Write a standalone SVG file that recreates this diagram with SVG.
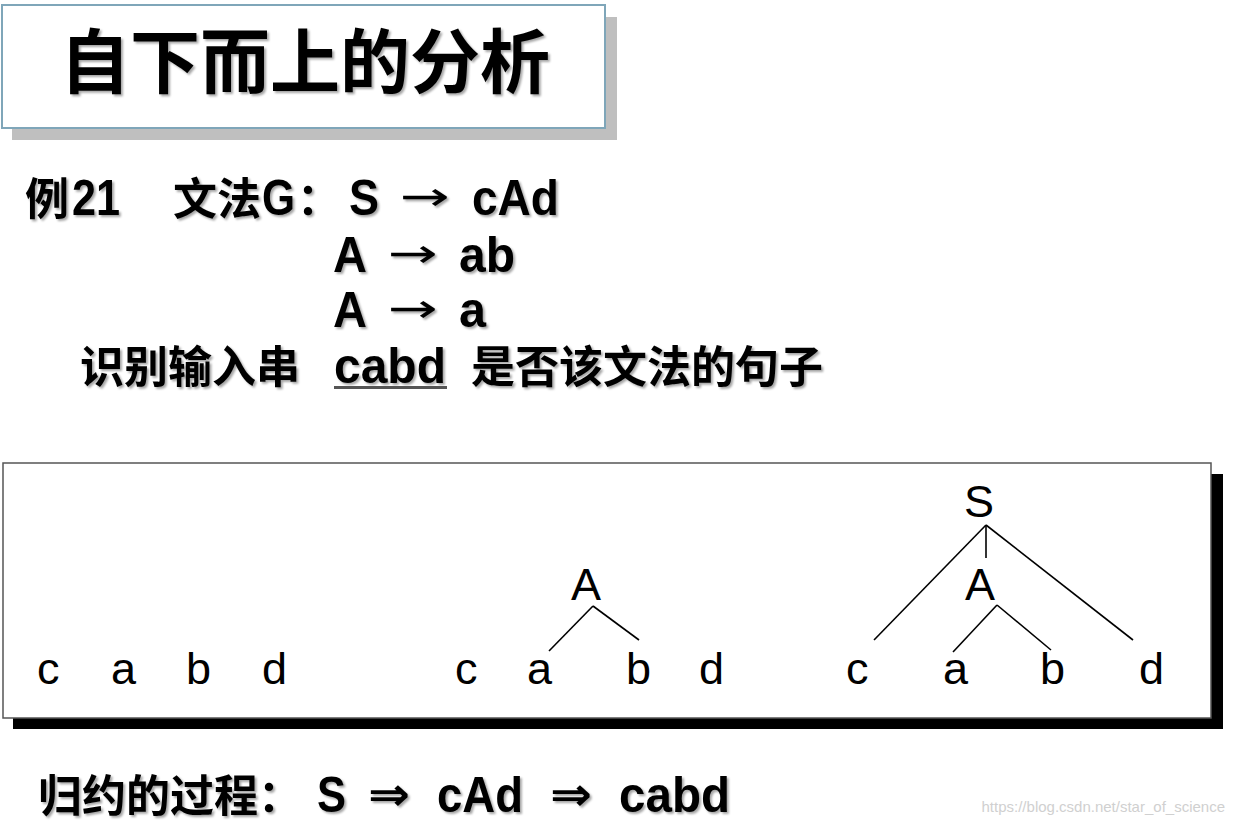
<svg xmlns="http://www.w3.org/2000/svg" width="1234" height="826" viewBox="0 0 1234 826">
<defs>
<filter id="ts" x="-5%" y="-20%" width="110%" height="140%">
<feDropShadow dx="2" dy="2" stdDeviation="1" flood-color="#000" flood-opacity="0.35"/>
</filter>
</defs>
<style>
.cjk{font-family:"Liberation Sans","Noto Sans CJK SC",sans-serif;font-weight:bold;fill:#000}
.lat{font-size:50px}
.arr{font-family:"DejaVu Sans",sans-serif;font-size:40px;font-weight:normal}
.arr2{font-family:"DejaVu Sans",sans-serif;font-size:46px;font-weight:bold}
.t{font-family:"Liberation Sans","Noto Sans CJK SC",sans-serif;font-size:45px;fill:#000}
.edge{stroke:#000;stroke-width:1.6;fill:none}
</style>
<rect width="1234" height="826" fill="#fff"/>
<g id="title">
<rect x="12" y="17" width="605" height="123" fill="#bfbfbf"/>
<rect x="2" y="5" width="603" height="123" fill="#fff" stroke="#7fa6b9" stroke-width="2"/>
<text x="305" y="88" text-anchor="middle" font-family="Noto Sans CJK SC, sans-serif" font-size="70" font-weight="bold" filter="url(#ts)">自下而上的分析</text>
</g>
<g id="grammar" class="cjk" font-size="44" filter="url(#ts)">
<text x="25" y="215">例</text>
<text class="lat" x="72" y="215" textLength="48" lengthAdjust="spacingAndGlyphs">21</text>
<text x="173" y="215">文法</text>
<text class="lat" x="262" y="215" textLength="33" lengthAdjust="spacingAndGlyphs">G</text>
<text x="297" y="215">：</text>
<text class="lat" x="349" y="215" textLength="30" lengthAdjust="spacingAndGlyphs">S</text>
<text class="arr" x="400" y="210" textLength="50" lengthAdjust="spacingAndGlyphs">→</text>
<text class="lat" x="472" y="215" textLength="87" lengthAdjust="spacingAndGlyphs">cAd</text>
<text class="lat" x="333" y="272" textLength="34" lengthAdjust="spacingAndGlyphs">A</text>
<text class="arr" x="388" y="267" textLength="50" lengthAdjust="spacingAndGlyphs">→</text>
<text class="lat" x="459" y="272" textLength="56" lengthAdjust="spacingAndGlyphs">ab</text>
<text class="lat" x="333" y="327" textLength="34" lengthAdjust="spacingAndGlyphs">A</text>
<text class="arr" x="388" y="322" textLength="50" lengthAdjust="spacingAndGlyphs">→</text>
<text class="lat" x="459" y="327" textLength="27" lengthAdjust="spacingAndGlyphs">a</text>
<text x="80" y="383">识别输入串</text>
<text class="lat" x="334" y="383" textLength="112" lengthAdjust="spacingAndGlyphs">cabd</text>
<text x="471" y="383">是否该文法的句子</text>
</g>
<rect x="334" y="386" width="113" height="3" fill="#555"/>
<g id="panel">
<rect x="13" y="474" width="1210" height="255" fill="#000"/>
<rect x="3" y="463" width="1208" height="255" fill="#fff" stroke="#555" stroke-width="1.5"/>
</g>
<g id="connectors">
<line class="edge" x1="593" y1="606" x2="549" y2="651"/>
<line class="edge" x1="593" y1="606" x2="639" y2="640"/>
<line class="edge" x1="986" y1="525" x2="874" y2="640"/>
<line class="edge" x1="986" y1="525" x2="986" y2="558"/>
<line class="edge" x1="986" y1="525" x2="1133" y2="640"/>
<line class="edge" x1="997" y1="605" x2="953" y2="652"/>
<line class="edge" x1="997" y1="605" x2="1051" y2="650"/>
</g>
<g id="step1" class="t">
<text x="37" y="684">c</text>
<text x="111" y="684">a</text>
<text x="186" y="684">b</text>
<text x="262" y="684">d</text>
</g>
<g id="step2" class="t">
<text x="455" y="684">c</text>
<text x="527" y="684">a</text>
<text x="626" y="684">b</text>
<text x="699" y="684">d</text>
<text x="571" y="600">A</text>
</g>
<g id="step3" class="t">
<text x="846" y="684">c</text>
<text x="943" y="684">a</text>
<text x="1040" y="684">b</text>
<text x="1139" y="684">d</text>
<text x="965" y="600">A</text>
<text x="964" y="517">S</text>
</g>
<g id="reduction" class="cjk" font-size="44" filter="url(#ts)">
<text x="38" y="812">归约的过程：</text>
<text class="lat" x="317" y="812" textLength="29" lengthAdjust="spacingAndGlyphs">S</text>
<text class="arr2" x="368" y="810" textLength="42" lengthAdjust="spacingAndGlyphs">⇒</text>
<text class="lat" x="437" y="812" textLength="86" lengthAdjust="spacingAndGlyphs">cAd</text>
<text class="arr2" x="550" y="810" textLength="42" lengthAdjust="spacingAndGlyphs">⇒</text>
<text class="lat" x="619" y="812" textLength="111" lengthAdjust="spacingAndGlyphs">cabd</text>
</g>
<text x="1225" y="812" text-anchor="end" font-family="Liberation Sans, sans-serif" font-size="15" fill="#d0d0d0">https://blog.csdn.net/star_of_science</text>
</svg>
